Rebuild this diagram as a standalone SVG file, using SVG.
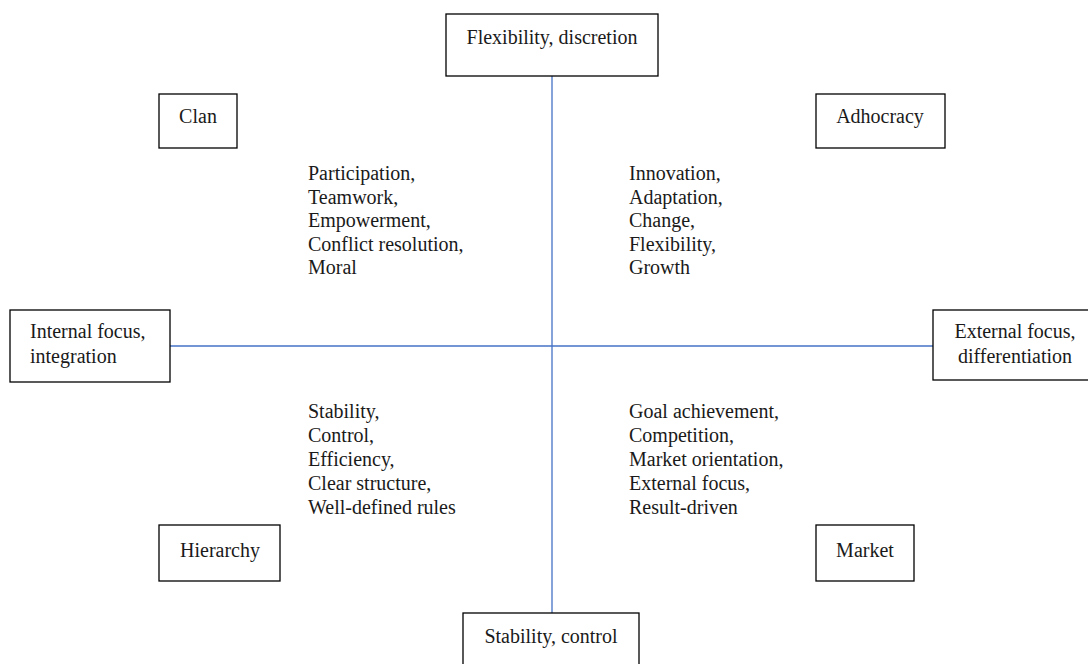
<svg xmlns="http://www.w3.org/2000/svg" width="1088" height="664" viewBox="0 0 1088 664">
  <style>
    .box { fill: #ffffff; stroke: #000000; stroke-width: 1.3; }
    .axis { stroke: #4472c4; stroke-width: 1.3; fill: none; }
    text { font-family: "Liberation Serif", "Times New Roman", serif; font-size: 20px; fill: #1a1a1a; }
    .c { text-anchor: middle; }
  </style>
  <rect width="1088" height="664" fill="#ffffff"/>

  <!-- axes -->
  <g id="connectors">
    <line class="axis" x1="552" y1="76" x2="552" y2="613"/>
    <line class="axis" x1="170" y1="346" x2="933" y2="346"/>
  </g>

  <!-- axis end labels -->
  <g id="flexibility">
    <rect class="box" x="446" y="14" width="212" height="62"/>
    <text class="c" x="552" y="44">Flexibility, discretion</text>
  </g>
  <g id="stability">
    <rect class="box" x="463" y="613" width="176" height="60"/>
    <text class="c" x="551" y="643">Stability, control</text>
  </g>
  <g id="internal">
    <rect class="box" x="10" y="310" width="160" height="72"/>
    <text x="30" y="338">Internal focus,</text>
    <text x="30" y="363">integration</text>
  </g>
  <g id="external">
    <rect class="box" x="933" y="310" width="160" height="70"/>
    <text class="c" x="1015" y="338">External focus,</text>
    <text class="c" x="1015" y="363">differentiation</text>
  </g>

  <!-- quadrant names -->
  <g id="clan">
    <rect class="box" x="159" y="94" width="78" height="54"/>
    <text class="c" x="198" y="123">Clan</text>
  </g>
  <g id="adhocracy">
    <rect class="box" x="816" y="94" width="129" height="54"/>
    <text class="c" x="880" y="123">Adhocracy</text>
  </g>
  <g id="hierarchy">
    <rect class="box" x="159" y="525" width="121" height="56"/>
    <text class="c" x="220" y="557">Hierarchy</text>
  </g>
  <g id="market">
    <rect class="box" x="816" y="525" width="98" height="56"/>
    <text class="c" x="865" y="557">Market</text>
  </g>

  <!-- quadrant values -->
  <g id="clan-values">
    <text x="308" y="180">Participation,</text>
    <text x="308" y="203.5">Teamwork,</text>
    <text x="308" y="227">Empowerment,</text>
    <text x="308" y="250.5">Conflict resolution,</text>
    <text x="308" y="274">Moral</text>
  </g>
  <g id="adhocracy-values">
    <text x="629" y="180">Innovation,</text>
    <text x="629" y="203.5">Adaptation,</text>
    <text x="629" y="227">Change,</text>
    <text x="629" y="250.5">Flexibility,</text>
    <text x="629" y="274">Growth</text>
  </g>
  <g id="hierarchy-values">
    <text x="308" y="418">Stability,</text>
    <text x="308" y="442">Control,</text>
    <text x="308" y="466">Efficiency,</text>
    <text x="308" y="490">Clear structure,</text>
    <text x="308" y="514">Well-defined rules</text>
  </g>
  <g id="market-values">
    <text x="629" y="418">Goal achievement,</text>
    <text x="629" y="442">Competition,</text>
    <text x="629" y="466">Market orientation,</text>
    <text x="629" y="490">External focus,</text>
    <text x="629" y="514">Result-driven</text>
  </g>
</svg>
